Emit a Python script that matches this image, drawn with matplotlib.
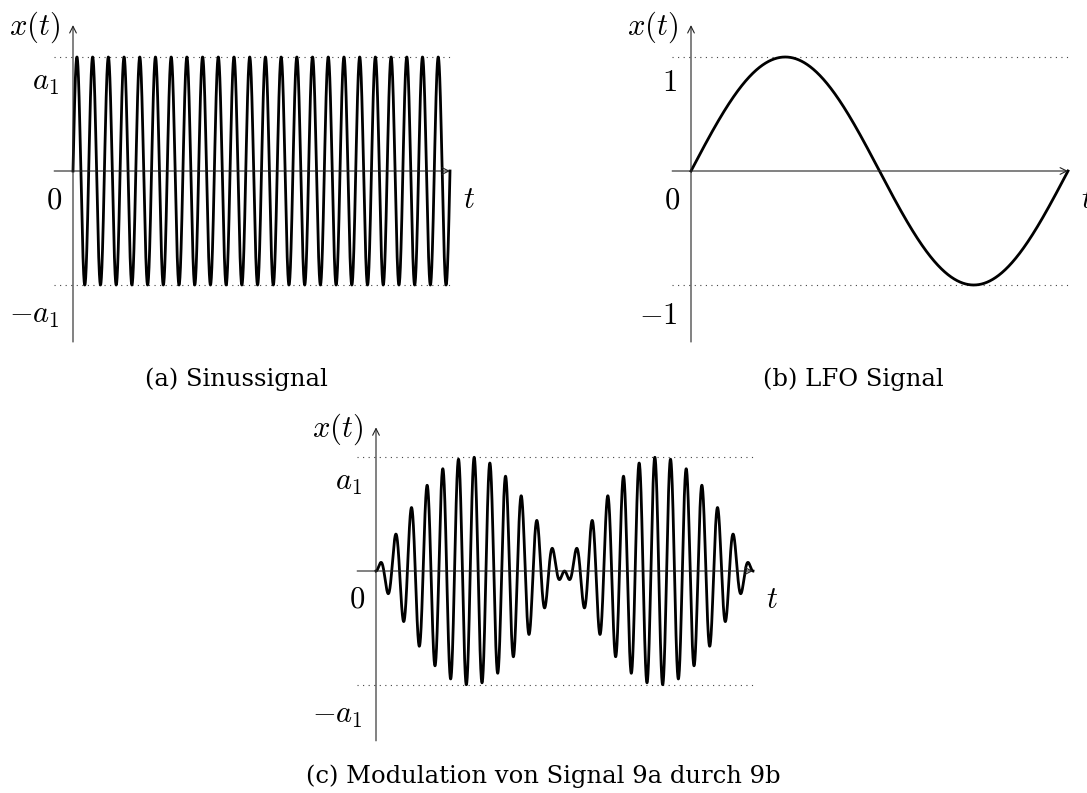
import numpy as np
import matplotlib
matplotlib.use("Agg")
import matplotlib.pyplot as plt

plt.rcParams['mathtext.fontset'] = 'cm'

# signal parameters
CARRIER_CYCLES = 24     # full periods of the sine in (a) over the plotted span
LFO_CYCLES = 1          # one period of the LFO in (b)
A1 = 1.0                # amplitude a_1 / 1

t = np.linspace(0, 1, 6001)
carrier = A1 * np.sin(2 * np.pi * CARRIER_CYCLES * t)
lfo = np.sin(2 * np.pi * LFO_CYCLES * t)
modulated = carrier * lfo

captions = ["(a) Sinussignal", "(b) LFO Signal", "(c) Modulation von Signal 9a durch 9b"]
ytick_labels = [["$a_1$", "$0$", "$-a_1$"], ["$1$", "$0$", "$-1$"], ["$a_1$", "$0$", "$-a_1$"]]

W, H = 1087, 793
SX, SY = 377.0, 114.0   # pixels per unit of t and of x(t)

fig = plt.figure(figsize=(W / 100, H / 100), dpi=100)


def panel(ox, oy):
    ax = fig.add_axes([0, 0, 1, 1])
    ax.set_xlim(-ox / SX, (W - ox) / SX)
    ax.set_ylim((oy - H) / SY, oy / SY)
    ax.axis('off')
    ax.patch.set_alpha(0)
    return ax


def draw(ax, y, labels, ybot, ytop, dot_end=1.0):
    fs = 22
    for lv in (A1, -A1):
        ax.plot([-0.05, dot_end], [lv, lv], color='#444444', lw=0.8,
                linestyle=(0, (1, 4)))
    arrow = dict(arrowstyle='->', lw=0.8, color='#222222', shrinkA=0,
                 shrinkB=0, mutation_scale=12)
    ax.annotate('', xy=(1.0, 0), xytext=(-0.05, 0), arrowprops=arrow)
    ax.annotate('', xy=(0, ytop), xytext=(0, ybot), arrowprops=arrow)
    ax.plot(t, y, color='black', lw=2.0, solid_joinstyle='round')

    kw = dict(textcoords='offset pixels', fontsize=fs, ha='right', va='top')
    ax.annotate(labels[0], xy=(0, A1), xytext=(-14, -11), **kw)
    ax.annotate(labels[1], xy=(0, 0), xytext=(-11, -14), **kw)
    ax.annotate(labels[2], xy=(0, -A1), xytext=(-13, -16), **kw)
    ax.annotate('$t$', xy=(1.0, 0), xytext=(13, -14), textcoords='offset pixels',
                fontsize=fs, ha='left', va='top')
    ax.annotate('$x(t)$', xy=(0, ytop), xytext=(-13, -2), textcoords='offset pixels',
                fontsize=fs, ha='right', va='center')


ax_a = panel(73, 171)
draw(ax_a, carrier, ytick_labels[0], -1.5, 1.28)

ax_b = panel(691, 171)
draw(ax_b, lfo, ytick_labels[1], -1.5, 1.28, dot_end=1.005)

ax_c = panel(376, 571)
draw(ax_c, modulated, ytick_labels[2], -1.49, 1.26)

cap_kw = dict(fontsize=17.5, family='DejaVu Serif', ha='center', va='center')
fig.text(236 / W, 1 - 379 / H, captions[0], **cap_kw)
fig.text(853 / W, 1 - 379 / H, captions[1], **cap_kw)
fig.text(543 / W, 1 - 776 / H, captions[2], **cap_kw)

fig.savefig('out.png', dpi=100, facecolor='white')
